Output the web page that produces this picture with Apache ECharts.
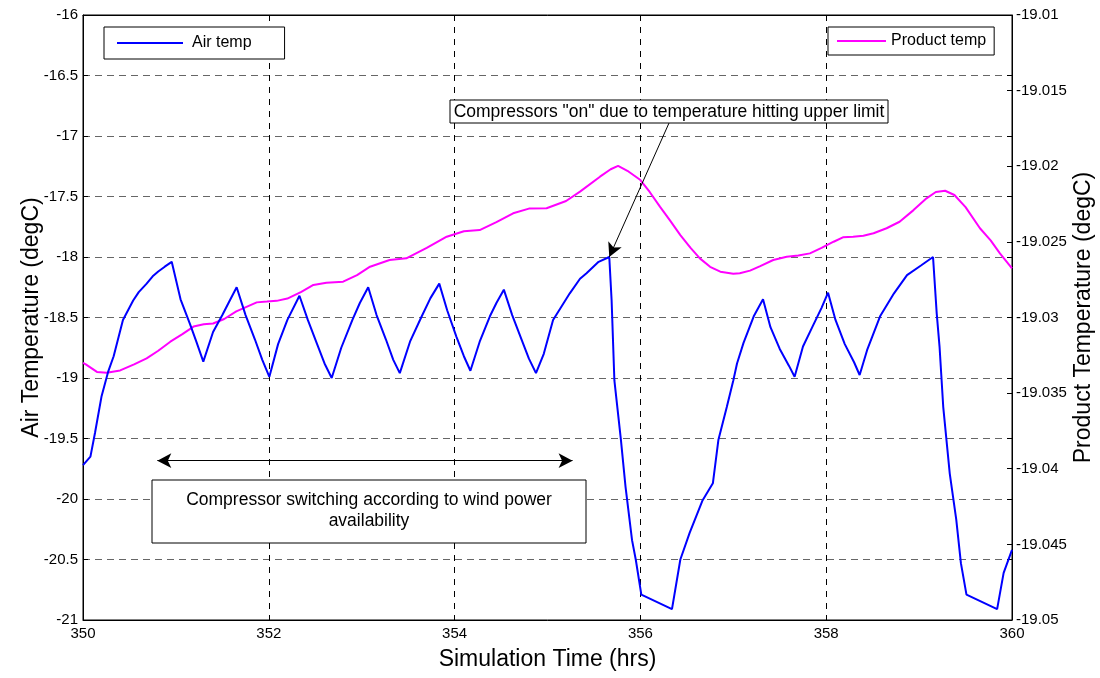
<!DOCTYPE html>
<html>
<head>
<meta charset="utf-8">
<script src="https://cdn.jsdelivr.net/npm/echarts@6/dist/echarts.min.js"></script>
<style>
html,body{margin:0;padding:0;background:#fff;}
#chart{width:1100px;height:678px;}
</style>
</head>
<body>
<div id="chart"></div>
<script>
// ---- Data ----
const airTime = [350.00,350.08,350.13,350.20,350.27,350.33,350.43,350.54,350.60,350.685,350.75,350.81,350.88,350.955,
  351.05,351.15,351.22,351.295,351.40,351.50,351.58,351.654,351.75,351.85,351.93,352.006,
  352.10,352.20,352.33,352.42,352.52,352.60,352.677,352.78,352.90,352.98,353.07,
  353.16,353.26,353.34,353.41,353.52,353.64,353.74,353.835,353.92,354.02,354.10,354.17,
  354.27,354.38,354.45,354.53,354.62,354.72,354.80,354.876,354.96,355.06,355.24,355.35,355.42,355.55,355.665,
  355.69,355.72,355.79,355.84,355.91,355.95,356.01,356.34,
  356.43,356.53,356.67,356.78,356.84,356.93,357.00,357.04,357.11,357.22,357.32,
  357.40,357.50,357.60,357.66,357.75,357.85,357.95,358.02,358.10,358.20,358.30,358.36,
  358.44,358.58,358.73,358.87,359.02,359.15,
  359.19,359.22,359.26,359.33,359.40,359.45,359.51,359.84,359.91,360.00];
const airTemp = [-19.72,-19.65,-19.45,-19.15,-18.95,-18.82,-18.52,-18.36,-18.29,-18.22,-18.16,-18.12,-18.08,-18.04,
  -18.35,-18.55,-18.70,-18.865,-18.62,-18.48,-18.36,-18.25,-18.48,-18.68,-18.85,-18.99,
  -18.72,-18.52,-18.32,-18.52,-18.72,-18.88,-19.00,-18.75,-18.52,-18.38,-18.25,
  -18.48,-18.68,-18.85,-18.96,-18.70,-18.50,-18.34,-18.22,-18.44,-18.66,-18.82,-18.94,
  -18.70,-18.49,-18.38,-18.27,-18.48,-18.68,-18.84,-18.96,-18.80,-18.52,-18.30,-18.18,-18.135,-18.04,-18.00,
  -18.355,-19.02,-19.51,-19.90,-20.34,-20.50,-20.79,-20.91,
  -20.50,-20.28,-20.01,-19.87,-19.51,-19.24,-19.02,-18.88,-18.71,-18.49,-18.35,
  -18.58,-18.76,-18.90,-18.99,-18.74,-18.58,-18.42,-18.295,-18.52,-18.72,-18.87,-18.975,
  -18.77,-18.49,-18.30,-18.15,-18.07,-18.00,
  -18.47,-18.74,-19.24,-19.79,-20.17,-20.53,-20.79,-20.91,-20.61,-20.42];

const prodTime = [350.00,350.03,350.15,350.255,350.40,350.55,350.685,350.81,350.94,351.07,351.19,351.30,351.40,351.52,
  351.65,351.76,351.87,351.98,352.085,352.20,352.35,352.48,352.62,352.80,352.95,353.09,353.30,353.48,353.70,353.915,
  354.10,354.27,354.45,354.63,354.80,354.99,355.20,355.35,355.565,355.68,355.76,355.86,356.00,356.10,356.21,356.32,
  356.43,356.54,356.64,356.75,356.86,357.00,357.07,357.18,357.29,357.43,357.575,357.70,357.825,357.95,358.08,358.18,
  358.29,358.40,358.51,358.65,358.79,358.94,359.08,359.18,359.28,359.38,359.50,359.655,359.77,359.87,360.00];
const prodTemp = [-19.0330,-19.0331,-19.0336,-19.03365,-19.0335,-19.0331,-19.0327,-19.0322,-19.0316,-19.0311,-19.0306,-19.03045,-19.0304,-19.0301,
  -19.0296,-19.0293,-19.0290,-19.02895,-19.0289,-19.02875,-19.0283,-19.02785,-19.0277,-19.02763,-19.0272,-19.02664,-19.0262,-19.02609,-19.0254,-19.02466,
  -19.0243,-19.02422,-19.0237,-19.02311,-19.0228,-19.02278,-19.0223,-19.02168,-19.02069,-19.0202,-19.01998,-19.0203,-19.02091,-19.0217,-19.02267,-19.0236,
  -19.02455,-19.0254,-19.02609,-19.02665,-19.02697,-19.0271,-19.02708,-19.0269,-19.0266,-19.0262,-19.02598,-19.0259,-19.02576,-19.0254,-19.02499,-19.0247,
  -19.02466,-19.0246,-19.02443,-19.0241,-19.02367,-19.0229,-19.02212,-19.0217,-19.02162,-19.0219,-19.0227,-19.0241,-19.0249,-19.02576,-19.02675];

const seriesNames = ['Air temp', 'Product temp'];
const xTitle = 'Simulation Time (hrs)';
const yLeftTitle = 'Air Temperature (degC)';
const yRightTitle = 'Product Temperature (degC)';
const note1 = 'Compressors "on" due to temperature hitting upper limit';
const note2 = 'Compressor switching according to wind power\navailability';
// annotation anchors (data units)
const arrowFrom = [356.308, -16.893];
const arrowTo = [355.665, -18.0];
const spanStart = [350.80, -19.683];
const spanEnd = [355.27, -19.683];

const FONT = '"Liberation Sans", Arial, sans-serif';
const zip = (a, b) => a.map((v, i) => [v, b[i]]);

const chart = echarts.init(document.getElementById('chart'), null, {renderer: 'canvas'});
const tickStyle = {inside: true, length: 5, lineStyle: {color: '#000'}};
const labelStyle = {fontFamily: FONT, fontSize: 15, color: '#000'};
const titleStyle = {fontFamily: FONT, fontSize: 23, color: '#000'};
chart.setOption({
  animation: false,
  backgroundColor: '#fff',
  grid: {left: 83, right: 88, top: 15, bottom: 58, show: true, borderColor: '#000', borderWidth: 1,
         backgroundColor: 'transparent', containLabel: false, outerBoundsMode: 'none'},
  legend: [
    {data: [seriesNames[0]], left: 104, top: 27, orient: 'horizontal', icon: 'rect', itemWidth: 66, itemHeight: 2,
     borderColor: '#000', borderWidth: 1, backgroundColor: '#fff', padding: [8, 33, 8, 13],
     textStyle: {fontFamily: FONT, fontSize: 16, color: '#000', padding: [0, 0, 0, 4]}, selectedMode: false},
    {data: [seriesNames[1]], left: 828, top: 27, orient: 'horizontal', icon: 'rect', itemWidth: 49, itemHeight: 2,
     borderColor: '#000', borderWidth: 1, backgroundColor: '#fff', padding: [6, 8, 6, 9],
     textStyle: {fontFamily: FONT, fontSize: 16, color: '#000'}, selectedMode: false}
  ],
  xAxis: [
    {type: 'value', min: 350, max: 360, interval: 2, position: 'bottom',
     name: xTitle, nameLocation: 'middle', nameGap: 28, nameMoveOverlap: false, nameTextStyle: titleStyle,
     axisLine: {show: true, lineStyle: {color: '#000'}}, axisTick: tickStyle,
     axisLabel: Object.assign({margin: 6}, labelStyle),
     splitLine: {show: true, lineStyle: {color: '#000', type: [6, 6], width: 1}}},
    {type: 'value', min: 350, max: 360, interval: 2, position: 'top',
     axisLine: {show: true, lineStyle: {color: '#000'}}, axisTick: tickStyle,
     axisLabel: {show: false}, splitLine: {show: false}}
  ],
  yAxis: [
    {type: 'value', min: -21, max: -16, interval: 0.5, position: 'left',
     name: yLeftTitle, nameLocation: 'middle', nameGap: 40, nameMoveOverlap: false, nameTextStyle: titleStyle,
     axisLine: {show: true, lineStyle: {color: '#000'}}, axisTick: tickStyle,
     axisLabel: Object.assign({margin: 5}, labelStyle),
     splitLine: {show: true, lineStyle: {color: '#666', type: [7, 5], width: 1}}},
    {type: 'value', min: -19.05, max: -19.01, interval: 0.005, position: 'right',
     name: yRightTitle, nameLocation: 'middle', nameGap: 60, nameRotate: 90, nameMoveOverlap: false, nameTextStyle: titleStyle,
     axisLine: {show: true, lineStyle: {color: '#000'}}, axisTick: tickStyle,
     axisLabel: Object.assign({margin: 4, formatter: v => String(parseFloat(v.toFixed(3)))}, labelStyle),
     splitLine: {show: false}},
    {type: 'value', min: -21, max: -16, interval: 0.5, position: 'right',
     axisLine: {show: false}, axisTick: tickStyle, axisLabel: {show: false}, splitLine: {show: false}}
  ],
  series: [
    {name: seriesNames[0], type: 'line', xAxisIndex: 0, yAxisIndex: 0, data: zip(airTime, airTemp),
     showSymbol: false, symbol: 'none', color: '#0000ff', lineStyle: {color: '#0000ff', width: 2}, z: 3,
     markLine: {silent: true, symbol: ['none', 'arrow'], symbolSize: [11, 14], animation: false,
       label: {show: false}, lineStyle: {color: '#000', type: 'solid', width: 1},
       data: [
         [{coord: arrowFrom, symbol: 'none'}, {coord: arrowTo, symbol: 'arrow'}],
         [{coord: spanStart, symbol: 'arrow'}, {coord: spanEnd, symbol: 'arrow'}]
       ]}},
    {name: seriesNames[1], type: 'line', xAxisIndex: 0, yAxisIndex: 1, data: zip(prodTime, prodTemp),
     showSymbol: false, symbol: 'none', color: '#ff00ff', lineStyle: {color: '#ff00ff', width: 2}, z: 2}
  ],
  graphic: [
    {type: 'rect', z: 100, shape: {x: 450, y: 100, width: 438, height: 23}, style: {fill: '#fff', stroke: '#000', lineWidth: 1}},
    {type: 'text', z: 101, x: 669, y: 112, style: {text: note1, font: '17.5px ' + FONT, fill: '#000', textAlign: 'center', textVerticalAlign: 'middle'}},
    {type: 'rect', z: 100, shape: {x: 152, y: 480, width: 434, height: 63}, style: {fill: '#fff', stroke: '#000', lineWidth: 1}},
    {type: 'text', z: 101, x: 369, y: 511, style: {text: note2, font: '17.5px ' + FONT, fill: '#000', textAlign: 'center', textVerticalAlign: 'middle', lineHeight: 21}}
  ]
});
</script>
</body>
</html>
